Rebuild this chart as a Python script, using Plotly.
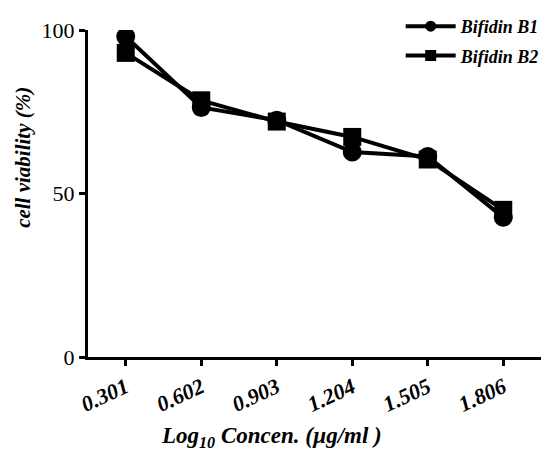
import plotly.graph_objects as go

categories = ["0.301", "0.602", "0.903", "1.204", "1.505", "1.806"]
b1_values = [98.0, 76.3, 72.4, 62.7, 61.3, 42.7]
b2_values = [93.0, 78.5, 72.0, 67.3, 60.4, 45.0]
y_ticks = [0, 50, 100]
series_names = ["Bifidin B1", "Bifidin B2"]

serif = "Times New Roman"
bi = dict(family=serif, color="black", weight="bold", style="italic")

fig = go.Figure()
fig.add_trace(go.Scatter(
    x=categories, y=b1_values, name=series_names[0], mode="lines+markers",
    line=dict(color="black", width=4), showlegend=False,
    marker=dict(symbol="circle", size=19, color="black"),
))
fig.add_trace(go.Scatter(
    x=categories, y=b2_values, name=series_names[1], mode="lines+markers",
    line=dict(color="black", width=4), showlegend=False,
    marker=dict(symbol="square", size=18, color="black"),
))
# legend entries (smaller legend symbols, as in the reference)
for name, sym in zip(series_names, ["circle", "square"]):
    fig.add_trace(go.Scatter(
        x=[None], y=[None], name=name, mode="lines+markers",
        legendgroup=name,
        line=dict(color="black", width=4),
        marker=dict(symbol=sym, size=11, color="black"),
    ))

fig.update_layout(
    width=557, height=452,
    font=dict(family=serif, color="black"),
    margin=dict(l=80, r=24, t=22, b=103, autoexpand=False),
    plot_bgcolor="white", paper_bgcolor="white",
    showlegend=True,
    legend=dict(
        xref="container", yref="container",
        x=0.705, y=1.067, xanchor="left", yanchor="top",
        font=dict(size=18, **bi),
        bgcolor="rgba(0,0,0,0)", itemwidth=50,
        traceorder="grouped", tracegroupgap=3,
    ),
    xaxis=dict(
        type="category", range=[-0.5, 5.5], automargin=False,
        showline=True, linecolor="black", linewidth=3,
        ticks="outside", ticklen=6, tickwidth=3, tickcolor="black",
        tickangle=-25,
        tickfont=dict(size=22, **bi),
        showgrid=False, zeroline=False,
    ),
    yaxis=dict(
        range=[0, 100], tickvals=y_ticks, automargin=False,
        showline=True, linecolor="black", linewidth=3,
        ticks="outside", ticklen=6, tickwidth=3, tickcolor="black",
        tickfont=dict(family=serif, size=22, color="black"),
        showgrid=False, zeroline=False,
    ),
    annotations=[
        dict(text="Log<sub>10</sub> Concen. (µg/ml )", xref="paper", yref="paper",
             x=0.406, y=0, yshift=-80, xanchor="center", yanchor="middle",
             showarrow=False, font=dict(size=23, **bi)),
        dict(text="cell viability (%)", xref="paper", yref="paper",
             x=0, xshift=-65, y=0.609, xanchor="center", yanchor="middle",
             textangle=-90, showarrow=False, font=dict(size=21, **bi)),
    ],
)

fig.write_html("out.html")
